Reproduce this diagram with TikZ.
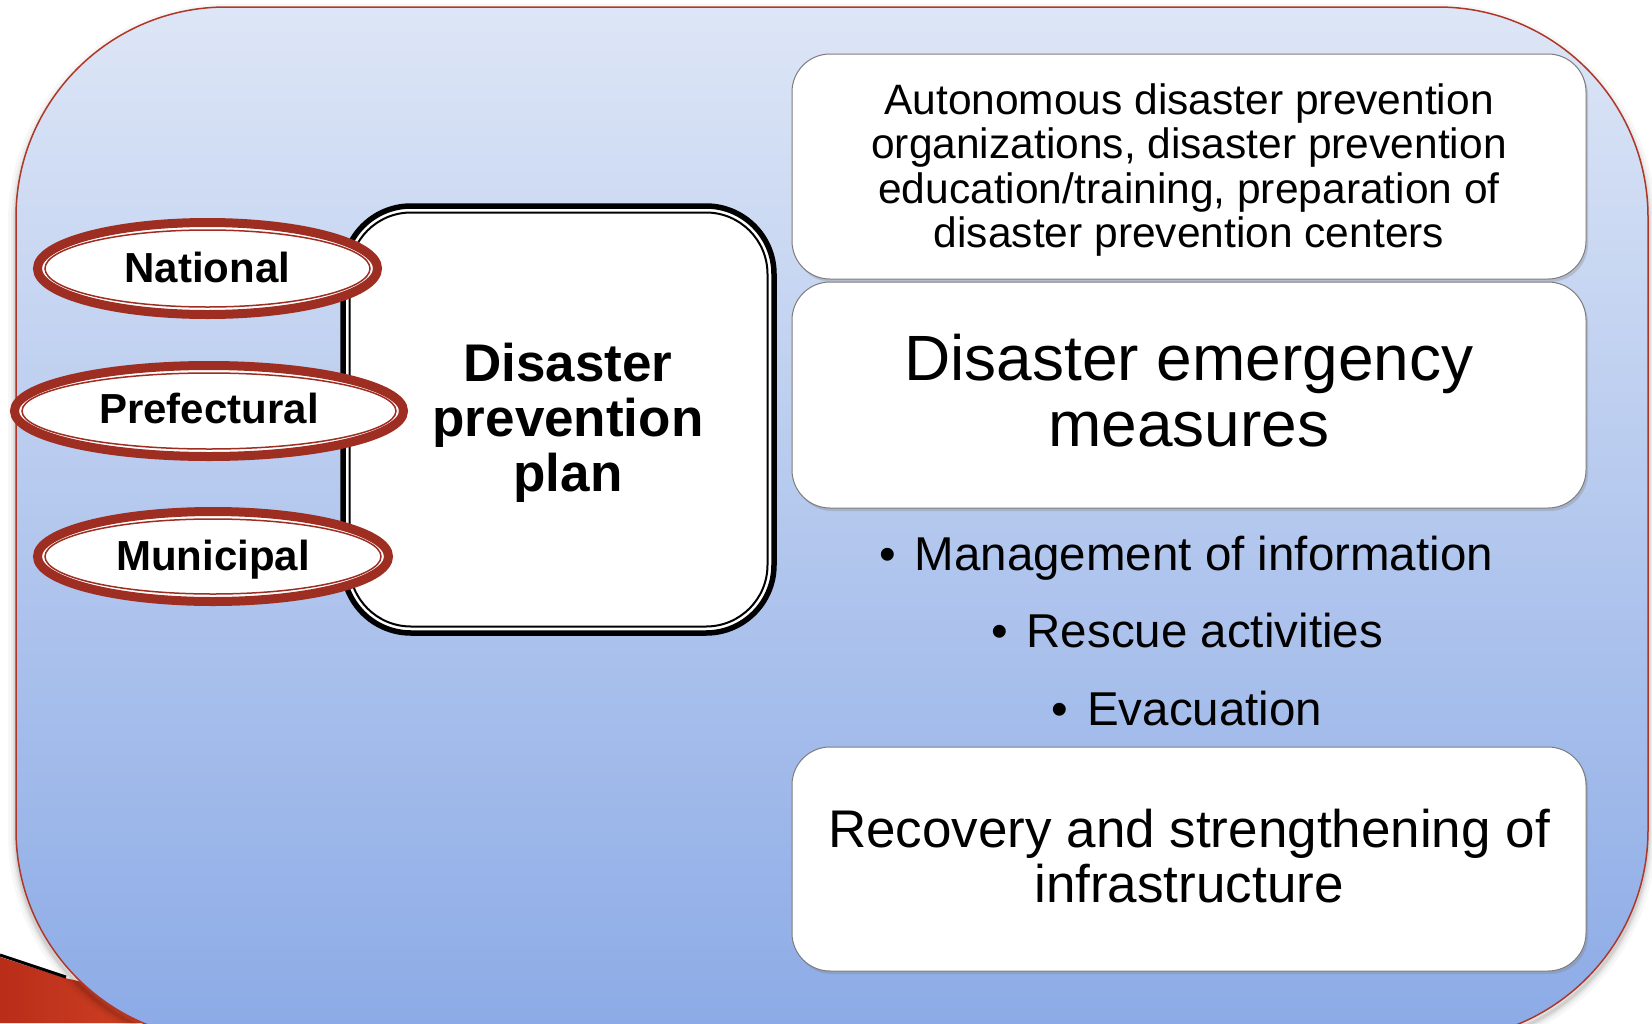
\documentclass[tikz,border=0pt]{standalone}
\usepackage{fontspec}
\setmainfont{Liberation Sans}
\usetikzlibrary{shapes.geometric,shadows}
\definecolor{bgtop}{RGB}{221,230,246}
\definecolor{bgbot}{RGB}{139,170,230}
\definecolor{ringred}{RGB}{158,46,34}
\definecolor{framered}{RGB}{175,55,40}
\definecolor{boxgray}{RGB}{125,125,125}
\definecolor{cornerdark}{RGB}{185,45,25}
\definecolor{cornerlight}{RGB}{225,80,45}
\begin{document}
\begin{tikzpicture}[x=1pt,y=-1pt,
  infobox/.style={draw=boxgray, line width=1pt, fill=white, rounded corners=38pt,
    minimum width=794pt, inner sep=0pt, outer sep=0pt,
    drop shadow={shadow xshift=2pt, shadow yshift=-3pt, opacity=0.3}},
  ring/.style={shape=ellipse, draw=ringred, line width=9pt, fill=white, inner sep=0pt,
    outer sep=0pt, text height=27pt, text depth=0pt,
    font=\bfseries\fontsize{42}{44}\selectfont},
  thinring/.style={draw=ringred, line width=1.5pt},
  boxtext/.style={align=center, text=black},
  bullettext/.style={anchor=base, font=\fontsize{47.5}{50}\selectfont}
]
\useasboundingbox (0,0) rectangle (1652,1023);
\fill[white] (0,0) rectangle (1652,1023);
\begin{scope}
\clip (0,0) rectangle (1652,1023);
% corner decoration of the slide
\shade[left color=cornerdark, right color=cornerlight] (0,957) -- (65,978) -- (260,1023) -- (0,1023) -- cycle;
\draw[black, line width=3pt] (0,955) -- (66,977);
% soft shadow of the main panel
\foreach \w/\o in {16/0.03,10/0.04,6/0.05,3/0.07}{
  \draw[black, opacity=\o, line width=\w pt, rounded corners=210pt] (16,12) rectangle (1648,1045);
}
% main panel
\path[top color=bgtop, bottom color=bgbot, draw=framered, line width=1.5pt, rounded corners=210pt]
  (16,7) rectangle (1648,1040);
\end{scope}
% right column boxes
\node[infobox, minimum height=225pt] (prep) at (1189,166.5) {};
\node[infobox, minimum height=226pt] (emerg) at (1189,395) {};
\node[infobox, minimum height=224pt] (recov) at (1189,859) {};
\node[boxtext, font=\fontsize{42.5}{44.5}\selectfont] (preptext) at (1189,170)
  {Autonomous disaster prevention\\organizations, disaster prevention\\education/training, preparation of\\disaster prevention centers};
\node[boxtext, font=\fontsize{64}{66}\selectfont] (emergtext) at (1189,391)
  {Disaster emergency\\measures};
\node[boxtext, font=\fontsize{53}{55}\selectfont] (recovtext) at (1189,856)
  {Recovery and strengthening of\\infrastructure};
\node[bullettext] (b1) at (1186,570) {•\hspace{19pt}Management of information};
\node[bullettext] (b2) at (1187,647) {•\hspace{19pt}Rescue activities};
\node[bullettext] (b3) at (1187,725) {•\hspace{19pt}Evacuation};
% central plan box
\node[draw=black, line width=5.5pt, fill=white, rounded corners=68pt, minimum width=431pt,
  minimum height=427pt, inner sep=0pt, outer sep=0pt] (plan) at (558.5,419.5) {};
\draw[black, line width=2pt, rounded corners=61.5pt]
  ([shift={(6.5,6.5)}]plan.north west) rectangle ([shift={(-6.5,-6.5)}]plan.south east);
\node[boxtext, font=\bfseries\fontsize{53}{55}\selectfont] (plantext) at (568,423)
  {Disaster\\prevention\\plan};
% level ellipses
\node[ring, minimum width=340pt, minimum height=92pt] (nat) at (207.5,268.5) {National};
\draw[thinring] (nat.center) ellipse [x radius=162.5, y radius=38.5];
\node[ring, minimum width=389pt, minimum height=91pt, text height=25pt] (pref) at (209,411) {Prefectural};
\draw[thinring] (pref.center) ellipse [x radius=187, y radius=38];
\node[ring, minimum width=351pt, minimum height=90pt] (muni) at (213,556.5) {Municipal};
\draw[thinring] (muni.center) ellipse [x radius=168, y radius=37.5];
\end{tikzpicture}
\end{document}
